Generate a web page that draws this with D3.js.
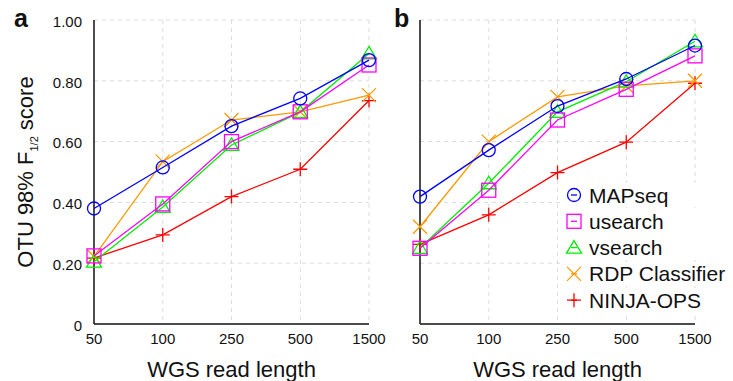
<!DOCTYPE html>
<html>
<head>
<meta charset="utf-8">
<script src="https://cdn.jsdelivr.net/npm/d3@7"></script>
<style>
  body { margin: 0; background: #fff; }
  svg { font-family: "Liberation Sans", Helvetica, Arial, sans-serif; }
</style>
</head>
<body>
<div id="chart"></div>
<script>
// read lengths on the x axis (categorical)
var readLengths = ["50", "100", "250", "500", "1500"];
var yTicks = [0, 0.2, 0.4, 0.6, 0.8, 1.0];
var methods = ["MAPseq", "usearch", "vsearch", "RDP Classifier", "NINJA-OPS"];

// panel a values, one array per method
var mapseqA = [0.38, 0.515, 0.651, 0.742, 0.868];
var usearchA = [0.224, 0.395, 0.600, 0.698, 0.852];
var vsearchA = [0.205, 0.385, 0.589, 0.697, 0.890];
var rdpA = [0.222, 0.534, 0.671, 0.698, 0.753];
var ninjaA = [0.217, 0.293, 0.419, 0.509, 0.735];

// panel b values
var mapseqB = [0.419, 0.572, 0.717, 0.806, 0.916];
var usearchB = [0.249, 0.44, 0.671, 0.772, 0.882];
var vsearchB = [0.25, 0.463, 0.698, 0.797, 0.93];
var rdpB = [0.32, 0.60, 0.747, 0.783, 0.80];
var ninjaB = [0.262, 0.359, 0.498, 0.598, 0.792];

var colors = ["#0000ff", "#ff00ff", "#00ee00", "#ff9900", "#ff0000"];
var shapes = ["circle", "square", "triangle", "x", "plus"];

var W = 733, H = 381;
var svg = d3.select("#chart").append("svg")
    .attr("width", W)
    .attr("height", H);

var plotTop = 20, plotBottom = 324;

// draw one marker into a group at (0,0)
function marker(g, shape, color) {
    var s = 7;
    if (shape == "circle") {
        g.append("circle").attr("r", 6.5).attr("fill", "none")
            .attr("stroke", color).attr("stroke-width", 1.3);
    } else if (shape == "square") {
        g.append("rect").attr("x", -s).attr("y", -s).attr("width", 2 * s).attr("height", 2 * s)
            .attr("fill", "none").attr("stroke", color).attr("stroke-width", 1.3);
    } else if (shape == "triangle") {
        g.append("path").attr("d", "M0,-7L7.5,5.5L-7.5,5.5Z")
            .attr("fill", "none").attr("stroke", color).attr("stroke-width", 1.3);
    } else if (shape == "x") {
        g.append("path").attr("d", "M-7,-7L7,7M-7,7L7,-7")
            .attr("stroke", color).attr("stroke-width", 1.3);
    } else {
        g.append("path").attr("d", "M-7,0L7,0M0,-7L0,7")
            .attr("stroke", color).attr("stroke-width", 1.3);
    }
}

function drawPanel(x0, x1, label, labelX, series, showYLabels) {
    var x = d3.scalePoint().domain(readLengths).range([x0, x1]);
    var y = d3.scaleLinear().domain([0, 1]).range([plotBottom, plotTop]);
    var g = svg.append("g");

    // dashed grid
    g.selectAll("line.hgrid")
        .data(yTicks.filter(function (d) { return d > 0; }))
        .enter().append("line")
        .attr("x1", x0).attr("x2", x1)
        .attr("y1", function (d) { return y(d); })
        .attr("y2", function (d) { return y(d); })
        .attr("stroke", "#dcdcdc").attr("stroke-dasharray", "4,4");
    g.selectAll("line.vgrid")
        .data(readLengths.slice(1))
        .enter().append("line")
        .attr("x1", function (d) { return x(d); })
        .attr("x2", function (d) { return x(d); })
        .attr("y1", plotTop).attr("y2", plotBottom)
        .attr("stroke", "#dcdcdc").attr("stroke-dasharray", "4,4");

    // axes lines
    g.append("line").attr("x1", x0).attr("x2", x0).attr("y1", plotTop).attr("y2", plotBottom)
        .attr("stroke", "#111").attr("stroke-width", 1.5);
    g.append("line").attr("x1", x0).attr("x2", x1).attr("y1", plotBottom).attr("y2", plotBottom)
        .attr("stroke", "#111").attr("stroke-width", 1.5);

    // x tick labels
    g.selectAll("text.xt").data(readLengths).enter().append("text")
        .attr("x", function (d) { return x(d); })
        .attr("y", 344)
        .attr("text-anchor", "middle")
        .attr("font-size", "15px")
        .attr("fill", "#111")
        .text(function (d) { return d; });

    if (showYLabels) {
        g.selectAll("text.yt").data(yTicks).enter().append("text")
            .attr("x", x0 - 12)
            .attr("y", function (d) { return y(d); })
            .attr("dy", "0.45em")
            .attr("text-anchor", "end")
            .attr("font-size", "15px")
            .attr("fill", "#111")
            .text(function (d) { return d == 0 ? "0" : d3.format(".2f")(d); });
    }

    // x axis title
    g.append("text")
        .attr("x", (x0 + x1) / 2)
        .attr("y", 377)
        .attr("text-anchor", "middle")
        .attr("font-size", "22px")
        .attr("fill", "#111")
        .text("WGS read length");

    // panel letter
    g.append("text")
        .attr("x", labelX)
        .attr("y", 27)
        .attr("font-size", "25px")
        .attr("font-weight", "bold")
        .attr("fill", "#111")
        .text(label);

    // lines + markers, last method drawn first so MAPseq sits on top
    var line = d3.line()
        .x(function (d, i) { return x(readLengths[i]); })
        .y(function (d) { return y(d); });
    for (var k = series.length - 1; k >= 0; k--) {
        g.append("path")
            .datum(series[k])
            .attr("d", line)
            .attr("fill", "none")
            .attr("stroke", colors[k])
            .attr("stroke-width", 1.3);
        series[k].forEach(function (v, i) {
            var m = g.append("g")
                .attr("transform", "translate(" + x(readLengths[i]) + "," + y(v) + ")");
            marker(m, shapes[k], colors[k]);
        });
    }
}

drawPanel(94, 369, "a", 14, [mapseqA, usearchA, vsearchA, rdpA, ninjaA], true);
drawPanel(420, 695, "b", 394, [mapseqB, usearchB, vsearchB, rdpB, ninjaB], false);

// y axis title with subscript
var yt = svg.append("text")
    .attr("transform", "translate(33,172) rotate(-90)")
    .attr("text-anchor", "middle")
    .attr("font-size", "22px")
    .attr("fill", "#111");
yt.append("tspan").text("OTU 98% F");
yt.append("tspan").attr("font-size", "11px").attr("dy", 5).text("1/2");
yt.append("tspan").attr("dy", -5).text(" score");

// legend
var legend = svg.append("g").attr("transform", "translate(574,195)");
methods.forEach(function (name, i) {
    var row = legend.append("g").attr("transform", "translate(0," + (i * 26.3) + ")");
    row.append("rect").attr("x", -12).attr("y", -12).attr("width", 160).attr("height", 24)
        .attr("fill", "#fff");
    row.append("line").attr("x1", -3).attr("x2", 3)
        .attr("stroke", colors[i]).attr("stroke-width", 1.3);
    marker(row, shapes[i], colors[i]);
    row.append("text")
        .attr("x", 15)
        .attr("y", 7.5)
        .attr("font-size", "21px")
        .attr("fill", "#111")
        .text(name);
});
</script>
</body>
</html>
